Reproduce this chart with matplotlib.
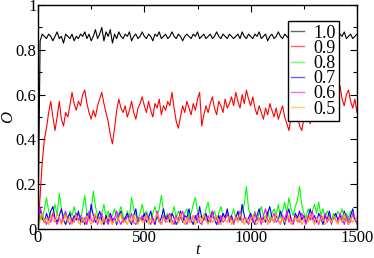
import numpy as np
import matplotlib
matplotlib.use("Agg")
import matplotlib.pyplot as plt
from matplotlib.ticker import MultipleLocator, FuncFormatter

# time axis: one sample every 10 steps
t = np.arange(0, 1501, 10)

# order parameter, hundredths
o_10 = [0, 84, 87, 86, 85, 87, 86, 84, 86, 88,
        85, 86, 83, 87, 86, 85, 87, 84, 86, 85,
        87, 86, 88, 85, 87, 84, 86, 89, 85, 87,
        90, 84, 88, 86, 89, 83, 87, 85, 88, 86,
        85, 87, 86, 88, 84, 86, 87, 85, 86, 88,
        86, 85, 87, 86, 84, 87, 86, 88, 85, 86,
        87, 85, 86, 88, 86, 85, 87, 86, 84, 86,
        87, 86, 85, 87, 86, 88, 85, 86, 87, 85,
        86, 87, 85, 86, 88, 86, 85, 87, 86, 85,
        87, 86, 85, 86, 87, 85, 88, 86, 85, 87,
        86, 85, 87, 86, 88, 85, 86, 87, 84, 86,
        87, 85, 86, 88, 86, 85, 87, 86, 85, 87,
        86, 84, 87, 86, 85, 88, 86, 85, 87, 86,
        85, 87, 86, 85, 87, 86, 88, 85, 86, 87,
        86, 85, 87, 86, 88, 85, 86, 87, 85, 86,
        87]
o_09 = [0, 15, 30, 40, 45, 52, 57, 50, 44, 50,
        57, 49, 46, 52, 50, 55, 61, 56, 53, 57,
        55, 60, 62, 56, 52, 49, 53, 50, 55, 58,
        61, 56, 52, 48, 42, 38, 45, 53, 58, 54,
        52, 55, 50, 53, 57, 52, 49, 54, 56, 59,
        55, 52, 57, 53, 50, 56, 54, 58, 51, 55,
        53, 57, 55, 61, 54, 48, 45, 50, 55, 52,
        57, 54, 51, 56, 53, 58, 61, 46, 51, 55,
        52, 56, 59, 54, 51, 57, 55, 52, 58, 54,
        56, 59, 55, 61, 57, 54, 60, 56, 62, 58,
        55, 59, 54, 51, 55, 52, 49, 54, 51, 56,
        53, 50, 54, 49, 52, 55, 50, 47, 44, 50,
        53, 48, 51, 46, 44, 49, 53, 50, 47, 52,
        55, 50, 54, 57, 52, 55, 58, 53, 56, 60,
        57, 61, 64, 58, 55, 60, 62, 57, 54, 58,
        52]
o_08 = [0, 6, 4, 9, 14, 8, 5, 7, 11, 6,
        16, 9, 5, 7, 4, 8, 6, 10, 5, 7,
        4, 9, 15, 7, 5, 8, 17, 10, 6, 4,
        7, 11, 5, 8, 4, 6, 9, 5, 7, 10,
        6, 4, 8, 5, 14, 9, 6, 4, 7, 11,
        6, 8, 5, 4, 7, 10, 6, 9, 15, 8,
        5, 7, 4, 6, 10, 5, 8, 6, 4, 7,
        9, 5, 7, 11, 14, 8, 5, 6, 4, 9,
        12, 6, 5, 8, 4, 7, 10, 6, 5, 8,
        4, 6, 9, 5, 7, 4, 8, 11, 19, 9,
        6, 5, 8, 4, 7, 10, 6, 5, 8, 4,
        7, 9, 6, 11, 5, 8, 12, 7, 14, 9,
        6, 10, 13, 19, 11, 7, 5, 9, 6, 8,
        11, 7, 12, 6, 9, 5, 8, 6, 4, 7,
        5, 8, 6, 9, 4, 7, 5, 8, 6, 4,
        5]
o_07 = [0, 9, 5, 3, 7, 4, 8, 10, 5, 3,
        6, 9, 4, 2, 5, 7, 3, 6, 4, 8,
        3, 5, 2, 7, 4, 11, 6, 3, 5, 8,
        4, 2, 6, 3, 7, 4, 5, 2, 6, 8,
        3, 5, 7, 4, 2, 6, 9, 3, 5, 4,
        7, 3, 5, 8, 4, 2, 6, 3, 5, 9,
        4, 6, 3, 7, 5, 2, 4, 8, 3, 6,
        5, 9, 4, 2, 6, 3, 10, 5, 4, 7,
        3, 5, 8, 4, 2, 6, 3, 7, 5, 9,
        4, 6, 3, 5, 8, 4, 11, 6, 3, 5,
        7, 4, 2, 6, 9, 4, 5, 3, 7, 10,
        5, 3, 6, 4, 8, 5, 2, 6, 9, 4,
        3, 7, 5, 8, 4, 6, 3, 5, 9, 4,
        6, 3, 7, 5, 2, 6, 4, 8, 3, 5,
        7, 4, 6, 3, 8, 5, 2, 6, 9, 4,
        3]
o_06 = [0, 10, 6, 4, 2, 5, 3, 7, 4, 2,
        5, 3, 6, 8, 4, 2, 5, 3, 7, 4,
        6, 3, 5, 2, 8, 4, 3, 6, 2, 5,
        7, 3, 4, 2, 6, 3, 5, 8, 4, 2,
        5, 3, 6, 4, 7, 3, 2, 5, 4, 6,
        3, 7, 4, 2, 5, 3, 8, 4, 2, 6,
        3, 5, 7, 4, 2, 6, 3, 5, 8, 4,
        2, 5, 3, 6, 4, 7, 3, 2, 5, 4,
        6, 3, 8, 4, 5, 2, 6, 3, 4, 7,
        3, 5, 2, 6, 4, 8, 3, 5, 4, 2,
        6, 3, 7, 4, 5, 2, 6, 9, 4, 3,
        5, 7, 3, 4, 2, 6, 4, 8, 3, 5,
        2, 6, 4, 3, 7, 5, 2, 6, 4, 8,
        3, 5, 2, 6, 4, 7, 3, 5, 2, 6,
        4, 3, 7, 5, 2, 6, 4, 3, 7, 5,
        2]
o_05 = [0, 4, 7, 3, 5, 2, 6, 4, 3, 7,
        5, 2, 4, 6, 3, 5, 2, 4, 6, 3,
        2, 5, 3, 6, 4, 2, 5, 7, 3, 4,
        2, 5, 3, 6, 4, 2, 4, 3, 5, 7,
        3, 4, 2, 5, 3, 6, 4, 2, 5, 3,
        4, 6, 2, 5, 3, 4, 7, 3, 2, 5,
        4, 3, 6, 2, 4, 5, 3, 7, 4, 2,
        5, 3, 4, 6, 2, 4, 5, 3, 7, 4,
        2, 5, 3, 4, 6, 3, 2, 5, 4, 3,
        6, 2, 4, 5, 3, 7, 4, 2, 5, 3,
        4, 6, 3, 2, 5, 4, 3, 6, 2, 4,
        5, 3, 7, 4, 2, 5, 3, 4, 6, 2,
        4, 5, 3, 6, 2, 4, 5, 3, 7, 4,
        2, 5, 3, 4, 6, 2, 4, 5, 3, 6,
        4, 2, 5, 3, 7, 4, 2, 5, 3, 4,
        5]

labels = ['1.0', '0.9', '0.8', '0.7', '0.6', '0.5']
colors = ['black', 'red', '#00ff00', 'blue', 'magenta', 'orange']

plt.rcParams['font.family'] = ['Liberation Serif', 'DejaVu Serif']

fig = plt.figure(figsize=(3.74, 2.58), dpi=100)
ax = fig.add_axes([38/374, 29/258, 319/374, 224/258])

for ys, lab, c in zip([o_10, o_09, o_08, o_07, o_06, o_05], labels, colors):
    ax.plot(t, np.array(ys) / 100.0, color=c, lw=0.8, label=lab)

ax.set_xlim(0, 1500)
ax.set_ylim(0, 1)
ax.xaxis.set_major_locator(MultipleLocator(500))
ax.xaxis.set_minor_locator(MultipleLocator(250))
ax.yaxis.set_major_locator(MultipleLocator(0.2))
ax.yaxis.set_minor_locator(MultipleLocator(0.1))
ax.yaxis.set_major_formatter(FuncFormatter(lambda v, p: '%g' % round(v, 1)))
ax.tick_params(which='both', direction='in', top=True, right=True, labelsize=12, pad=1)
ax.tick_params(which='major', length=5, width=0.8)
ax.tick_params(which='minor', length=3, width=0.8)
for s in ax.spines.values():
    s.set_linewidth(1.0)

ax.set_xlabel('t', fontsize=12, style='italic', labelpad=-3)
ax.set_ylabel('O', fontsize=12, style='italic', labelpad=0)

leg = ax.legend(loc='upper right', bbox_to_anchor=(301/319, 208/224), fontsize=13,
                frameon=True, fancybox=False, edgecolor='black', framealpha=1,
                handlelength=0.7, handletextpad=0.5, labelspacing=-0.1,
                borderpad=0.2, borderaxespad=0)
leg.get_frame().set_linewidth(1.0)
for h in leg.get_lines():
    h.set_linewidth(1.0)
    h.set_alpha(0.6)

fig.savefig('out.png', dpi=100)
